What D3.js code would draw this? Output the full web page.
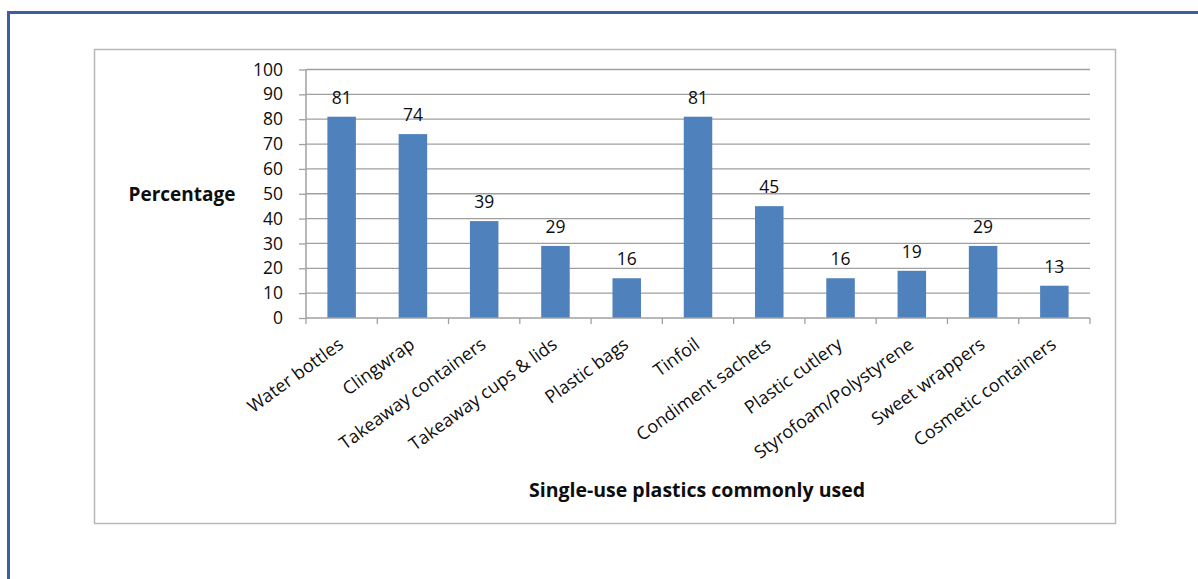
<!DOCTYPE html>
<html>
<head>
<meta charset="utf-8">
<title>Single-use plastics</title>
<script src="https://d3js.org/d3.v7.min.js"></script>
<style>
  body { margin: 0; background: #fff; }
  text { font-family: 'Open Sans', sans-serif; fill: #0d0d0d; }
</style>
</head>
<body>
<svg id="chart" width="1198" height="579"></svg>
<script>
var categories = ["Water bottles", "Clingwrap", "Takeaway containers", "Takeaway cups & lids",
                  "Plastic bags", "Tinfoil", "Condiment sachets", "Plastic cutlery",
                  "Styrofoam/Polystyrene", "Sweet wrappers", "Cosmetic containers"];
var values = [81, 74, 39, 29, 16, 81, 45, 16, 19, 29, 13];
var yTicks = [0, 10, 20, 30, 40, 50, 60, 70, 80, 90, 100];

var svg = d3.select("#chart");

// outer blue frame (left + top only visible)
svg.append("path")
  .attr("d", "M 8.5,579 L 8.5,12.5 L 1198,12.5")
  .attr("fill", "none")
  .attr("stroke", "#3b5ea6")
  .attr("stroke-width", 3);

// chart box
svg.append("rect")
  .attr("x", 94.5).attr("y", 49.5)
  .attr("width", 1021).attr("height", 474)
  .attr("fill", "#fff")
  .attr("stroke", "#b8b8b8")
  .attr("stroke-width", 1.5);

var plotL = 306, plotR = 1090, plotT = 69.5, plotB = 318;

var x = d3.scaleBand().domain(categories).range([plotL, plotR]).paddingInner(0.6).paddingOuter(0.3);
var xTick = d3.scaleBand().domain(categories).range([plotL, plotR]);
var y = d3.scaleLinear().domain([0, 100]).range([plotB, plotT]);

// gridlines
svg.append("g").selectAll("line")
  .data(yTicks.filter(d => d > 0))
  .join("line")
  .attr("x1", plotL).attr("x2", plotR)
  .attr("y1", d => y(d)).attr("y2", d => y(d))
  .attr("stroke", "#a0a0a0").attr("stroke-width", 1.3);

// bars
svg.append("g").selectAll("rect")
  .data(values)
  .join("rect")
  .attr("x", (d, i) => x(categories[i]))
  .attr("width", x.bandwidth())
  .attr("y", d => y(d))
  .attr("height", d => y(0) - y(d))
  .attr("fill", "#4f81bd");

// value labels
svg.append("g").selectAll("text")
  .data(values)
  .join("text")
  .attr("x", (d, i) => x(categories[i]) + x.bandwidth() / 2)
  .attr("y", d => y(d) - 13)
  .attr("text-anchor", "middle")
  .attr("font-size", 17.5)
  .text(d => d);

// y axis
var yAxis = svg.append("g")
  .attr("transform", "translate(" + plotL + ",0)")
  .call(d3.axisLeft(y).tickValues(yTicks).tickSize(7).tickPadding(16));
yAxis.select(".domain").attr("stroke", "#a0a0a0").attr("stroke-width", 1.5).attr("d", "M0," + plotT + "V" + plotB);
yAxis.selectAll(".tick line").attr("stroke", "#a0a0a0").attr("stroke-width", 1.3);
yAxis.selectAll(".tick text").attr("font-size", 17.5).attr("font-family", "'Open Sans', sans-serif").attr("fill", "#0d0d0d");

// x axis
var xAxis = svg.append("g")
  .attr("transform", "translate(0," + plotB + ")");
xAxis.append("line")
  .attr("x1", plotL).attr("x2", plotR)
  .attr("stroke", "#a0a0a0").attr("stroke-width", 1.5);
xAxis.selectAll("line.tk")
  .data(categories.map(c => xTick(c)).concat([plotR]))
  .join("line")
  .attr("class", "tk")
  .attr("x1", d => d).attr("x2", d => d)
  .attr("y1", 0).attr("y2", 6)
  .attr("stroke", "#a0a0a0").attr("stroke-width", 1.3);
xAxis.selectAll("text")
  .data(categories)
  .join("text")
  .attr("text-anchor", "end")
  .attr("font-size", 18)
  .attr("transform", d => "translate(" + (x(d) + x.bandwidth() / 2 + 3) + ",29) rotate(-36)")
  .text(d => d);

// axis titles
svg.append("text")
  .attr("x", 182).attr("y", 201)
  .attr("text-anchor", "middle")
  .attr("font-size", 19)
  .attr("font-weight", "bold")
  .text("Percentage");

svg.append("text")
  .attr("x", 697).attr("y", 497)
  .attr("text-anchor", "middle")
  .attr("font-size", 19.5)
  .attr("font-weight", "bold")
  .text("Single-use plastics commonly used");
</script>
</body>
</html>
